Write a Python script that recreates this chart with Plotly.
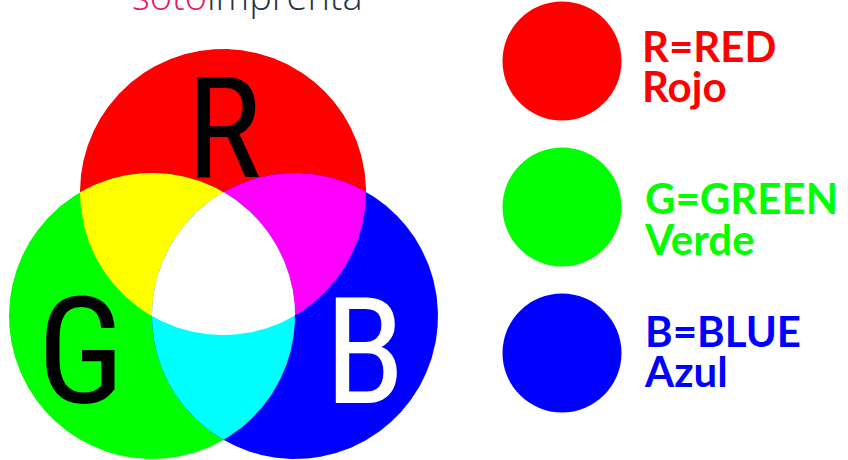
import numpy as np
import plotly.graph_objects as go

# ---- data ----
channel_names = ["R", "G", "B"]
circle_cx = [223, 152, 295]
circle_cy = [192, 316, 316]
circle_r = [143, 143, 143]
channel_colors = ["#ff0000", "#00ff00", "#0000ff"]
mix_pairs = [(0, 1), (0, 2), (1, 2)]
mix_colors = ["#ffff00", "#ff00ff", "#00ffff"]
center_color = "#ffffff"

letter_x = [224, 81, 365]
letter_y = [143, 366, 366]
letter_size = [141, 148, 148]
letter_colors = ["#000000", "#000000", "#ffffff"]

legend_cx = [562, 562, 562]
legend_cy = [61, 207, 353]
legend_label_en = ["R=RED", "G=GREEN", "B=BLUE"]
legend_label_es = ["Rojo", "Verde", "Azul"]
legend_text_x = [642, 645, 645]
legend_en_y = [51, 203, 336]
legend_es_y = [91, 244, 376]

brand_a = "soto"
brand_b = "imprenta"

W, H = 848, 460


def region(idx, n=1440):
    pts = []
    t = np.linspace(0, 2 * np.pi, n, endpoint=False)
    for i in idx:
        px = circle_cx[i] + circle_r[i] * np.cos(t)
        py = circle_cy[i] + circle_r[i] * np.sin(t)
        keep = np.ones_like(px, dtype=bool)
        for j in idx:
            if j == i:
                continue
            d = np.hypot(px - circle_cx[j], py - circle_cy[j])
            keep &= d <= circle_r[j] + 1e-6
        pts.append(np.column_stack([px[keep], py[keep]]))
    pts = np.vstack(pts)
    c = pts.mean(axis=0)
    ang = np.arctan2(pts[:, 1] - c[1], pts[:, 0] - c[0])
    pts = pts[np.argsort(ang)]
    pts = np.vstack([pts, pts[:1]])
    return pts[:, 0], pts[:, 1]


fig = go.Figure()


def add_region(idx, color):
    x, y = region(idx)
    fig.add_trace(go.Scatter(x=x, y=y, mode="lines", fill="toself",
                             fillcolor=color, line=dict(width=0, color=color),
                             hoverinfo="skip", showlegend=False))


for i, col in enumerate(channel_colors):
    add_region([i], col)
for (a, b), col in zip(mix_pairs, mix_colors):
    add_region([a, b], col)
add_region([0, 1, 2], center_color)

big_font = "Roboto Condensed, DejaVu Sans Condensed, Liberation Sans Narrow, Roboto, sans-serif"
for i in range(3):
    fig.add_trace(go.Scatter(x=[letter_x[i]], y=[letter_y[i]], mode="text",
                             text=[channel_names[i]], textposition="middle center",
                             textfont=dict(family=big_font, size=letter_size[i],
                                           color=letter_colors[i], weight="normal"),
                             hoverinfo="skip", showlegend=False, cliponaxis=False))

fig.add_trace(go.Scatter(x=legend_cx, y=legend_cy, mode="markers",
                         marker=dict(size=119, color=channel_colors, line=dict(width=0)),
                         hoverinfo="skip", showlegend=False))

lab_font = "Lato, Open Sans, sans-serif"
for i in range(3):
    fig.add_trace(go.Scatter(x=[legend_text_x[i]], y=[legend_en_y[i]], mode="text",
                             text=[legend_label_en[i]], textposition="middle right",
                             textfont=dict(family=lab_font, size=42, color=channel_colors[i], weight="bold"),
                             hoverinfo="skip", showlegend=False, cliponaxis=False))
    fig.add_trace(go.Scatter(x=[legend_text_x[i]], y=[legend_es_y[i]], mode="text",
                             text=[legend_label_es[i]], textposition="middle right",
                             textfont=dict(family=lab_font, size=42, color=channel_colors[i], weight="bold"),
                             hoverinfo="skip", showlegend=False, cliponaxis=False))

fig.add_annotation(x=247, y=23, xref="x", yref="y", yanchor="bottom", xanchor="center",
                   text=f"<span style='color:#e8175d'>{brand_a}</span><span style='color:#243447'>{brand_b}</span>",
                   showarrow=False, font=dict(family="Open Sans, sans-serif", size=38, weight=300))

fig.update_layout(width=W, height=H, margin=dict(l=0, r=0, t=0, b=0),
                  paper_bgcolor="white", plot_bgcolor="white",
                  xaxis=dict(range=[0, W], visible=False, fixedrange=True),
                  yaxis=dict(range=[H, 0], visible=False, fixedrange=True))

fig.write_html("out.html", config={"displayModeBar": False},
               post_script="document.body.style.margin='0';document.body.style.overflow='hidden';")
